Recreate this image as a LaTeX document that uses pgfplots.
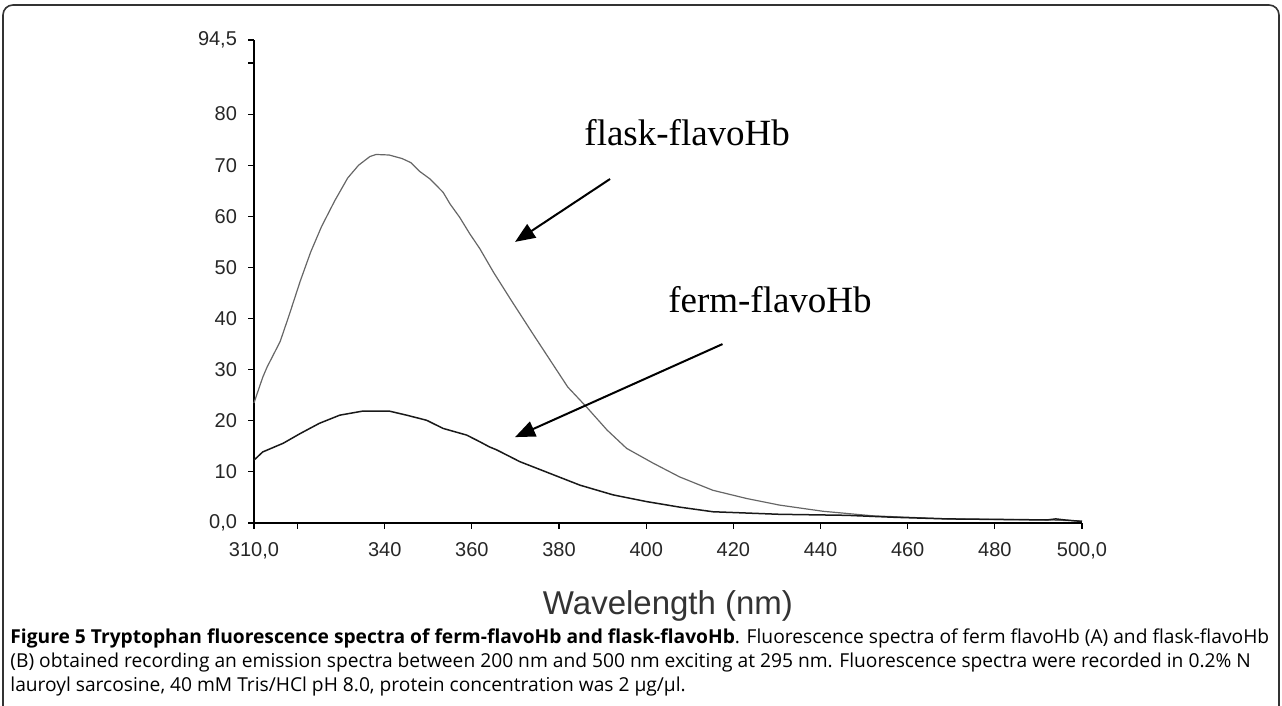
\documentclass[border=0pt]{standalone}
\usepackage{pgfplots}
\pgfplotsset{compat=1.18}
\usetikzlibrary{arrows.meta}
\usepackage{fontspec}
\setmainfont{Liberation Sans}
\newfontfamily\timesfont{Liberation Serif}
\newfontfamily\capfont{Open Sans}
\begin{document}
\begin{tikzpicture}[x=1pt,y=1pt]
\useasboundingbox (0pt,0pt) rectangle (641pt,353pt);
\clip (0pt,0pt) rectangle (641pt,353pt);
\draw[line width=0.8pt, color=black!80, rounded corners=5pt] (1.5pt,-20pt) -- (1.5pt,350.5pt) -- (639.5pt,350.5pt) -- (639.5pt,-20pt);
\begin{axis}[
 at={(127pt,91.5pt)}, anchor=south west,
 scale only axis, width=414pt, height=241.5pt,
 xmin=310, xmax=500, ymin=0, ymax=94.5,
 axis lines*=left, axis line style={line width=0.9pt},
 tick align=outside, major tick length=3pt, tick style={black, line width=0.6pt},
 xtick={310,320,340,360,380,400,420,440,460,480,500},
 xticklabels={{310,0},{},340,360,380,400,420,440,460,480,{500,0}},
 ytick={0,10,20,30,40,50,60,70,80,90,94.5},
 yticklabels={{0,0},10,20,30,40,50,60,70,80,{},{94,5}},
 ticklabel style={font=\fontsize{10}{12}\selectfont, text=black!85},
 xticklabel style={yshift=-3pt},
 yticklabel style={xshift=-2pt},
 xlabel={Wavelength (nm)},
 xlabel style={font=\fontsize{16.5}{20}\selectfont, text=black!80, at={(axis description cs:0.5,-0.172)}, anchor=center},
 clip=false,
]
\addplot[color=black!60, line width=0.6pt] coordinates {
(310,23.5) (312,28.5) (313,30.5) (316,35.5) (318,40.5) (320.6,47.3) (323,53) (325.5,58)
(328.5,63) (331.5,67.5) (334,70) (336.6,71.7) (338,72.1) (341,72) (344,71.3) (346,70.5)
(348,68.8) (350.4,67.3) (353.4,64.7) (355,62.4) (357.2,59.8) (359.5,56.6) (361.8,53.7)
(365,49) (369,43.6) (374,37) (378,31.8) (382,26.6) (386.3,22.7) (391,18.2) (395.5,14.6)
(401.6,11.7) (407.7,9) (415.3,6.4) (423,4.8) (430.6,3.5) (440.5,2.3) (452,1.4) (469,0.8)
(480,0.7) (492,0.6) (500,0.4)
};
\addplot[color=black!90, line width=0.75pt] coordinates {
(310,12.3) (312,13.9) (316.7,15.6) (320.6,17.5) (325,19.5) (329.7,21.1) (335,21.9)
(341,21.9) (345,21.1) (349.6,20.1) (353.4,18.5) (358.8,17.2) (361.8,15.9) (364,14.9)
(365.7,14.3) (371,12) (377,10) (384.8,7.4) (392.4,5.5) (400,4.2) (407.7,3.1) (415.3,2.2)
(430.6,1.7) (446,1.5) (457.4,1.1) (469,0.8) (480,0.7) (492,0.6) (494,0.8) (496,0.6) (500,0.3)
};
\draw[line width=1pt, -{Triangle[length=10pt,width=8pt]}] (axis cs:391.7,67.3) -- (axis cs:369.9,55.0);
\draw[line width=1pt, -{Triangle[length=10pt,width=8pt]}] (axis cs:417.5,35.0) -- (axis cs:369.9,16.8);
\node[font=\timesfont\fontsize{18.5}{22}\selectfont] at (axis cs:409.4,76.3) {flask-flavoHb};
\node[font=\timesfont\fontsize{18.5}{22}\selectfont] at (axis cs:428.4,43.6) {ferm-flavoHb};
\end{axis}
\node[anchor=base west, inner sep=0, font=\capfont\fontsize{9.6}{11}\selectfont] at (5pt,31pt) {\textbf{Figure 5 Tryptophan fluorescence spectra of ferm-flavoHb and flask-flavoHb}. Fluorescence spectra of ferm flavoHb (A) and flask-flavoHb};
\node[anchor=base west, inner sep=0, font=\capfont\fontsize{9.6}{11}\selectfont] at (5pt,19pt) {(B) obtained recording an emission spectra between 200 nm and 500 nm exciting at 295 nm. Fluorescence spectra were recorded in 0.2\% N};
\node[anchor=base west, inner sep=0, font=\capfont\fontsize{9.6}{11}\selectfont] at (5pt,7pt) {lauroyl sarcosine, 40 mM Tris/HCl pH 8.0, protein concentration was 2 μg/μl.};
\end{tikzpicture}
\end{document}
